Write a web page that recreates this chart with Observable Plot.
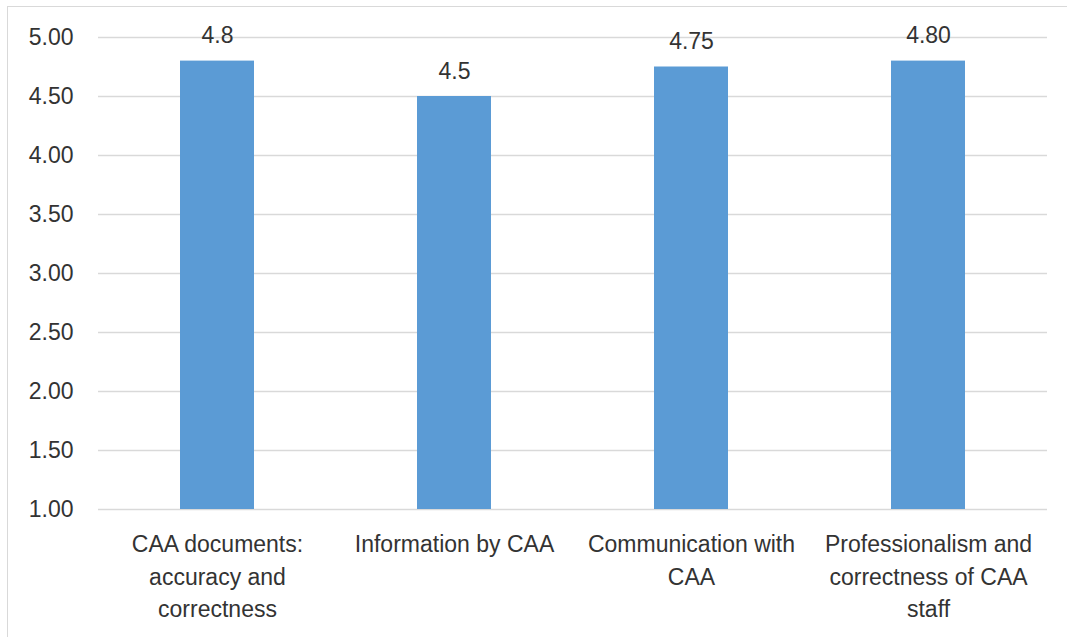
<!DOCTYPE html>
<html><head><meta charset="utf-8">
<script src="https://cdn.jsdelivr.net/npm/d3@7"></script>
<script src="https://cdn.jsdelivr.net/npm/@observablehq/plot@0.6"></script>
<style>
html,body{margin:0;padding:0;background:#fff;overflow:hidden;}
#wrap{position:relative;width:1067px;height:637px;}
#frame{position:absolute;left:7px;top:6px;width:1100px;height:700px;border:1.5px solid #d9d9d9;box-sizing:border-box;}
#chart{position:absolute;left:0;top:0;}
</style></head>
<body><div id="wrap"><div id="frame"></div><div id="chart"></div></div>
<script>
const categories = ["CAA documents: accuracy and correctness","Information by CAA","Communication with CAA","Professionalism and correctness of CAA staff"];
const tickLabels = ["CAA documents:\naccuracy and\ncorrectness","Information by CAA","Communication with\nCAA","Professionalism and\ncorrectness of CAA\nstaff"];
const values = [4.8, 4.5, 4.75, 4.80];
const valueLabels = ["4.8","4.5","4.75","4.80"];
const yTicks = [1,1.5,2,2.5,3,3.5,4,4.5,5];

const data = categories.map((c,i)=>({cat:c, value:values[i], label:valueLabels[i]}));
const font = "'Liberation Sans', Arial, sans-serif";
const fs = 23;
const chart = Plot.plot({
  width:1067, height:637,
  marginLeft:98, marginRight:20, marginTop:37, marginBottom:128,
  style:{fontFamily:font, fontSize:fs+"px", color:"#333", background:"transparent"},
  x:{domain:categories, paddingInner:0.688, paddingOuter:0.344, label:null},
  y:{domain:[1,5], label:null},
  marks:[
    Plot.ruleY(yTicks,{stroke:"#d9d9d9", strokeWidth:1.5}),
    Plot.barY(data,{x:"cat", y1:1, y2:"value", fill:"#5b9bd5"}),
    Plot.text(data,{x:"cat", y:"value", text:"label", lineAnchor:"bottom", dy:-18, fontSize:fs, fill:"#333"}),
    Plot.axisY(yTicks,{tickSize:0, tickPadding:25, tickFormat:d=>d.toFixed(2), fontSize:fs, label:null}),
    Plot.axisX({tickSize:0, tickPadding:20, tickFormat:(d)=>tickLabels[categories.indexOf(d)], lineHeight:1.4, lineAnchor:"top", fontSize:fs, label:null})
  ]
});
document.getElementById("chart").appendChild(chart);
</script></body></html>
